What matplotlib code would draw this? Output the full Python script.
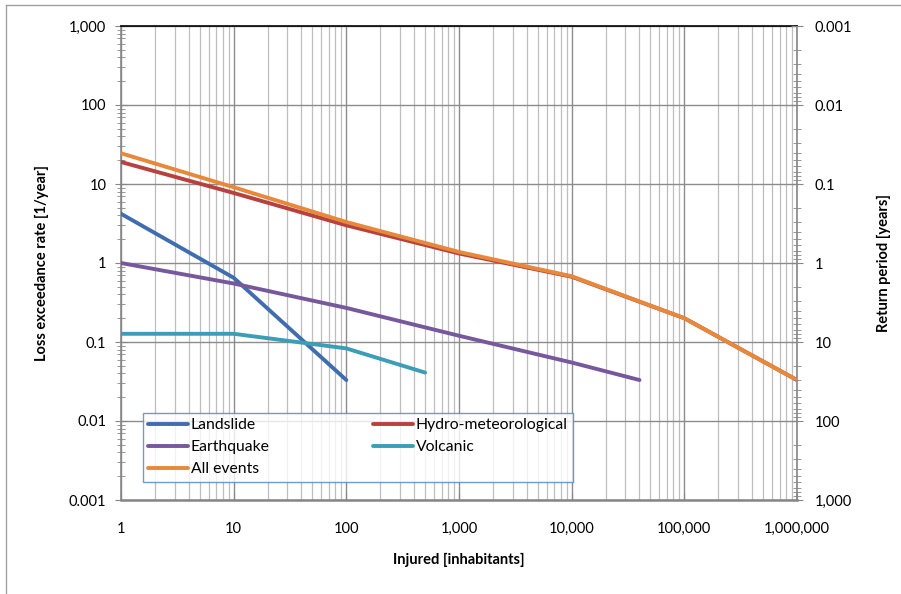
import matplotlib
matplotlib.use("Agg")
import matplotlib.pyplot as plt
from matplotlib.ticker import FixedLocator, FuncFormatter, LogLocator, NullFormatter
from matplotlib.lines import Line2D

plt.rcParams['font.family'] = ['Lato', 'DejaVu Sans']

x_decades = [1, 10, 100, 1000, 10000, 100000, 1000000]

landslide_x = [1, 10, 100]
landslide_y = [4.2, 0.65, 0.033]

hydro_x = [1, 10, 100, 1000, 10000, 100000, 1000000]
hydro_y = [19.0, 7.7, 3.0, 1.32, 0.67, 0.2, 0.033]

earthquake_x = [1, 10, 100, 1000, 10000, 40000]
earthquake_y = [1.0, 0.55, 0.27, 0.12, 0.055, 0.033]

volcanic_x = [1, 10, 100, 500]
volcanic_y = [0.127, 0.127, 0.083, 0.041]

all_x = [1, 10, 100, 1000, 10000, 100000, 1000000]
all_y = [24.5, 9.1, 3.3, 1.38, 0.68, 0.2, 0.033]

series = [
    ("Landslide", landslide_x, landslide_y, "#3F6DAE"),
    ("Hydro-meteorological", hydro_x, hydro_y, "#B7413E"),
    ("Earthquake", earthquake_x, earthquake_y, "#77589C"),
    ("Volcanic", volcanic_x, volcanic_y, "#3C9DB6"),
    ("All events", all_x, all_y, "#E8883A"),
]

y_ticks = [0.001, 0.01, 0.1, 1, 10, 100, 1000]
left_labels = ["0.001", "0.01", "0.1", "1", "10", "100", "1,000"]
right_labels = ["0.001", "0.01", "0.1", "1", "10", "100", "1,000"]
x_labels = ["1", "10", "100", "1,000", "10,000", "100,000", "1,000,000"]

fig = plt.figure(figsize=(9.01, 5.94), dpi=100)
ax = fig.add_axes([121/901, 1-500/594, (797-121)/901, (500-26)/594])

ax.set_xscale('log')
ax.set_yscale('log')
ax.set_xlim(1, 1e6)
ax.set_ylim(0.001, 1000)

handles = {}
for name, xs, ys, col in series:
    h, = ax.plot(xs, ys, color=col, lw=2.8, solid_capstyle='round', zorder=3)
    handles[name] = h

ax.xaxis.set_major_locator(FixedLocator(x_decades))
ax.xaxis.set_major_formatter(FuncFormatter(lambda v, p: x_labels[x_decades.index(v)] if v in x_decades else ""))
ax.xaxis.set_minor_locator(LogLocator(base=10, subs=range(2, 10), numticks=100))
ax.xaxis.set_minor_formatter(NullFormatter())
ax.yaxis.set_major_locator(FixedLocator(y_ticks))
ax.set_yticklabels(left_labels)
ax.yaxis.set_minor_locator(LogLocator(base=10, subs=range(2, 10), numticks=100))
ax.yaxis.set_minor_formatter(NullFormatter())

ax.grid(True, which='major', axis='both', color='#8C8C8C', lw=1.0, zorder=0)
ax.grid(True, which='minor', axis='x', color='#BEBEBE', lw=0.9, zorder=0)
ax.set_axisbelow(True)

ax.tick_params(axis='x', which='major', length=5, direction='in', color='#868686', labelsize=10.5, pad=16)
ax.tick_params(axis='x', which='minor', length=0)
ax.tick_params(axis='y', which='major', length=9, direction='inout', color='#868686', labelsize=10.5, pad=6)
ax.tick_params(axis='y', which='minor', length=6, direction='inout', color='#868686')

for s in ['left', 'bottom', 'right']:
    ax.spines[s].set_color('#868686')
ax.spines['bottom'].set_linewidth(1.8)
ax.spines['left'].set_linewidth(1.2)
ax.spines['right'].set_linewidth(1.2)
ax.spines['top'].set_color('black')
ax.spines['top'].set_linewidth(1.2)

ax.set_xlabel("Injured [inhabitants]", fontsize=10.5, fontweight='bold', labelpad=12)
ax.set_ylabel("Loss exceedance rate [1/year]", fontsize=10.5, fontweight='bold', labelpad=14)

ax2 = ax.twinx()
ax2.set_yscale('log')
ax2.set_ylim(1000, 0.001)
ax2.set_yticks(y_ticks)
ax2.set_yticklabels(right_labels)
ax2.yaxis.set_minor_locator(LogLocator(base=10, subs=range(2, 10), numticks=100))
ax2.yaxis.set_minor_formatter(NullFormatter())
ax2.tick_params(axis='y', which='major', length=9, direction='inout', color='#868686', labelsize=10.5, pad=8)
ax2.tick_params(axis='y', which='minor', length=6, direction='inout', color='#868686')
for s in ax2.spines.values():
    s.set_visible(False)
ax2.set_ylabel("Return period [years]", fontsize=10.5, fontweight='bold', labelpad=18)

order = ["Landslide", "Earthquake", "All events", "Hydro-meteorological", "Volcanic"]
leg = ax.legend([handles[n] for n in order], order, ncol=2, loc='upper left',
                bbox_to_anchor=((143-121)/676, (500-413)/474),
                frameon=True, fancybox=False, fontsize=11.3,
                handlelength=2.5, handletextpad=0.2, labelspacing=0.5,
                borderpad=0.35, columnspacing=6.6, borderaxespad=0)
leg.get_frame().set_edgecolor('#4F81BD')
leg.get_frame().set_linewidth(1.0)
leg.set_zorder(5)

fig.add_artist(Line2D([6/901, 6/901], [0, 1-5/594], transform=fig.transFigure, color='#A0A0A0', lw=1.0))
fig.add_artist(Line2D([6/901, 1], [1-5/594, 1-5/594], transform=fig.transFigure, color='#A0A0A0', lw=1.0))

fig.savefig("out.png", dpi=100)
